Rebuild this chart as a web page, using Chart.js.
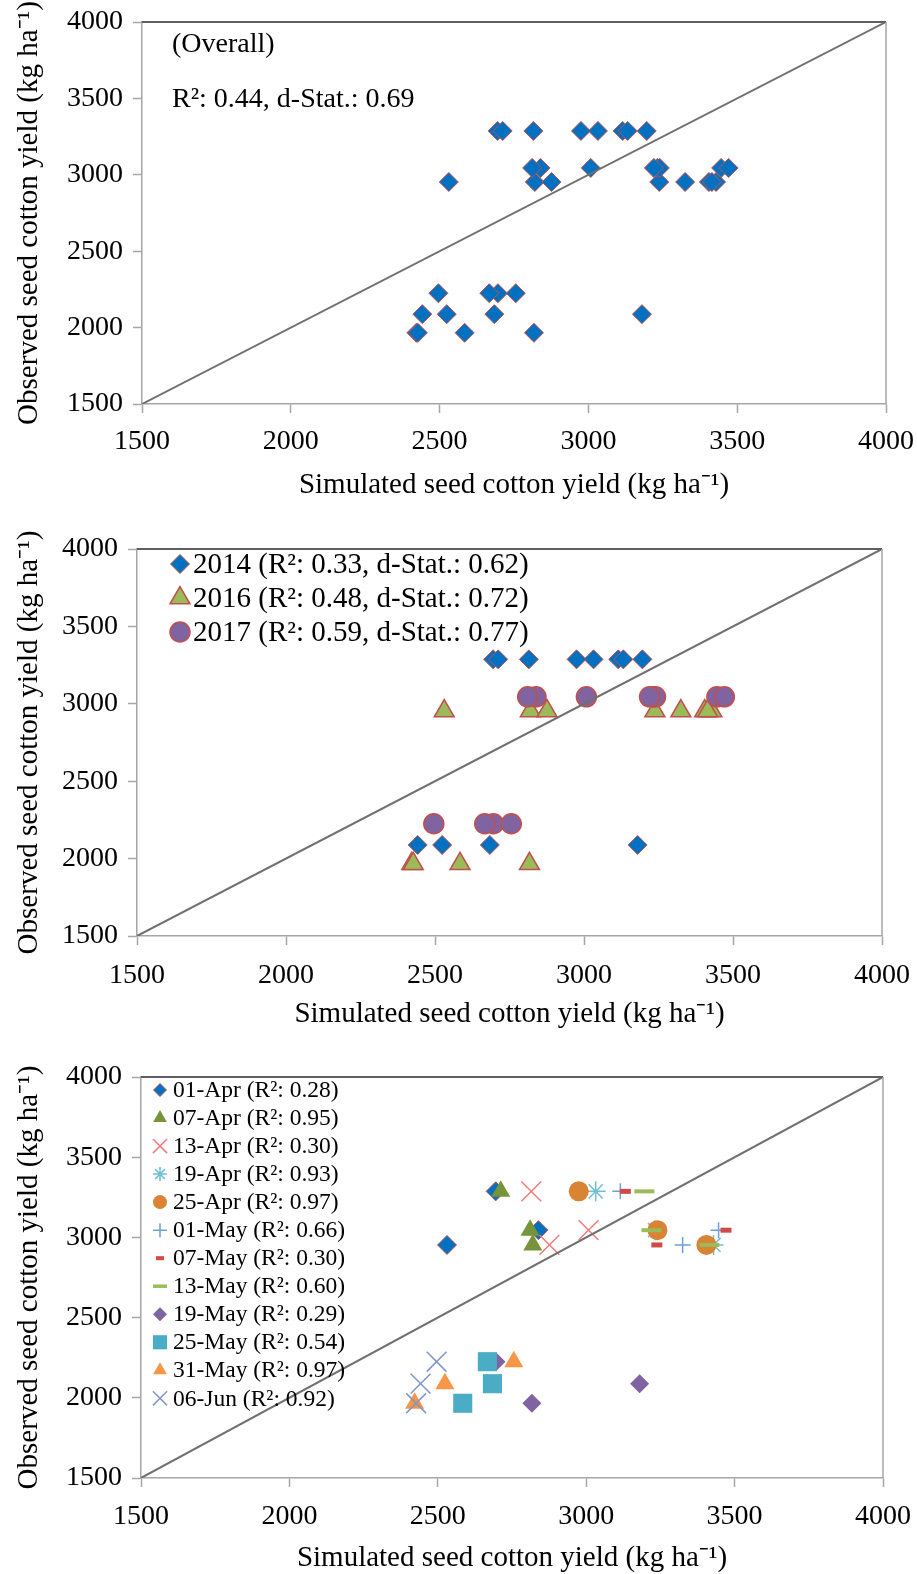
<!DOCTYPE html>
<html>
<head>
<meta charset="utf-8">
<script src="https://cdn.jsdelivr.net/npm/chart.js@4.4.1/dist/chart.umd.min.js"></script>
<style>
  html, body { margin: 0; padding: 0; background: #fff; }
  #wrap { position: relative; width: 917px; height: 1574px; }
  #wrap canvas { position: absolute; left: 0; }
</style>
</head>
<body>
<div id="wrap">
  <canvas id="c1" width="917" height="510" style="top:0px"></canvas>
  <canvas id="c2" width="917" height="530" style="top:510px"></canvas>
  <canvas id="c3" width="917" height="534" style="top:1040px"></canvas>
</div>
<script>
// ── dados ─────────────────────────────────────────────────────────
const axisTicks = [1500, 2000, 2500, 3000, 3500, 4000];
const oneToOne = [1500, 4000];

const sowingDates = ['01-Apr', '07-Apr', '13-Apr', '19-Apr', '25-Apr', '01-May',
                     '07-May', '13-May', '19-May', '25-May', '31-May', '06-Jun'];
const sowingR2 = ['0.28', '0.95', '0.30', '0.93', '0.97', '0.66',
                  '0.30', '0.60', '0.29', '0.54', '0.97', '0.92'];

const sim2014 = [2695, 2712, 2815, 3032, 2975, 3115, 3132, 3196, 3180, 2684, 2524, 2442];
const obs2014 = [3287, 3287, 3287, 3287, 3287, 3287, 3287, 3287, 2088, 2088, 2088, 2088];
const sim2016 = [2531, 2820, 2876, 3429, 3405, 3325, 3238, 3415, 2817, 2584, 2422, 2427];
const obs2016 = [2953, 2953, 2953, 2953, 2953, 2953, 2953, 2953, 1966, 1966, 1966, 1966];
const sim2017 = [2839, 2811, 3008, 3232, 3240, 3446, 3471, 3220, 2696, 2667, 2756, 2496];
const obs2017 = [3045, 3045, 3045, 3045, 3045, 3045, 3045, 3045, 2225, 2225, 2225, 2225];

const years  = ['2014', '2016', '2017'];
const yearR2 = ['0.33', '0.48', '0.59'];
const yearD  = ['0.62', '0.72', '0.77'];
const overallR2 = '0.44';
const overallD  = '0.69';

const xTitle = 'Simulated seed cotton yield (kg ha\u207B\u00B9)';
const yTitle = 'Observed seed cotton yield (kg ha\u207B\u00B9)';

// ── estilos ───────────────────────────────────────────────────────
const FONT = "'Liberation Serif', 'Times New Roman', serif";
const AXIS = '#a6a6a6';
const RED_EDGE = '#c0504d';

const yearStyle = [
  { pointStyle: 'rectRot',  bg: '#0070c0', border: RED_EDGE, bw: 1,   r: 9.5 },
  { pointStyle: 'triangle', bg: '#9bbb59', border: RED_EDGE, bw: 1.5, r: 11.5 },
  { pointStyle: 'circle',   bg: '#8064a2', border: RED_EDGE, bw: 1.5, r: 10 },
];

const sowingStyle = [
  { pointStyle: 'rectRot',  bg: '#0070c0', border: RED_EDGE,  bw: 1,   r: 9.5, lr: 6.5 },
  { pointStyle: 'triangle', bg: '#77933c', border: '#77933c', bw: 0,   r: 11,  lr: 8 },
  { pointStyle: 'crossRot', bg: '#f07c7c', border: '#f07c7c', bw: 1.5, r: 14,  lr: 10 },
  { pointStyle: 'star',     bg: '#6fc0d4', border: '#6fc0d4', bw: 1.5, r: 10,  lr: 7 },
  { pointStyle: 'circle',   bg: '#d98434', border: '#d98434', bw: 0,   r: 10,  lr: 7 },
  { pointStyle: 'cross',    bg: '#6f9fdb', border: '#6f9fdb', bw: 1.5, r: 8,   lr: 7 },
  { pointStyle: 'line',     bg: '#d04a4a', border: '#d04a4a', bw: 5,   r: 5.5, lr: 4, lbw: 4 },
  { pointStyle: 'line',     bg: '#9bbb59', border: '#9bbb59', bw: 4,   r: 10,  lr: 7, lbw: 3.5 },
  { pointStyle: 'rectRot',  bg: '#8064a2', border: '#8064a2', bw: 0,   r: 9.5, lr: 7 },
  { pointStyle: 'rect',     bg: '#4bacc6', border: '#4bacc6', bw: 0,   r: 13.5, lr: 10 },
  { pointStyle: 'triangle', bg: '#f79646', border: '#f79646', bw: 0,   r: 11,  lr: 8 },
  { pointStyle: 'crossRot', bg: '#8096c8', border: '#8096c8', bw: 1.5, r: 14,  lr: 10 },
];

const pts = (xs, ys) => xs.map((x, i) => ({ x, y: ys[i] }));

function serie(data, st, idx) {
  return {
    data,
    pointStyle: st.pointStyle,
    pointRadius: st.r,
    pointHoverRadius: st.r,
    pointBackgroundColor: st.bg,
    pointBorderColor: st.border,
    pointBorderWidth: st.bw,
    showLine: false,
    order: -idx,
  };
}

function linha11() {
  return {
    data: oneToOne.map(v => ({ x: v, y: v })),
    showLine: true,
    borderColor: '#707070',
    borderWidth: 2,
    pointRadius: 0,
    order: -100,
  };
}

// moldura superior / direita
const moldura = {
  id: 'moldura',
  afterDraw(chart) {
    const { ctx, chartArea: a } = chart;
    ctx.save();
    ctx.lineWidth = 2;
    ctx.strokeStyle = '#5f5f5f';
    ctx.beginPath(); ctx.moveTo(a.left, a.top); ctx.lineTo(a.right, a.top); ctx.stroke();
    ctx.lineWidth = 1.5;
    ctx.strokeStyle = AXIS;
    ctx.beginPath(); ctx.moveTo(a.right, a.top); ctx.lineTo(a.right, a.bottom); ctx.stroke();
    ctx.restore();
  }
};

function legenda(itens, x, y0, passo, tam) {
  return {
    id: 'legenda',
    afterDraw(chart) {
      const ctx = chart.ctx;
      ctx.save();
      itens.forEach((it, i) => {
        const y = y0 + i * passo;
        const st = it.st;
        ctx.fillStyle = st.bg;
        ctx.strokeStyle = st.border;
        ctx.lineWidth = st.lbw || st.bw;
        Chart.helpers.drawPoint(ctx, {
          pointStyle: st.pointStyle, rotation: 0,
          radius: st.lr || st.r, borderWidth: st.lbw || st.bw
        }, x, y);
        ctx.fillStyle = '#000';
        ctx.font = `${tam}px ${FONT}`;
        ctx.textBaseline = 'middle';
        ctx.textAlign = 'left';
        ctx.fillText(it.texto, x + 13, y + 1);
      });
      ctx.restore();
    }
  };
}

function criar(id, datasets, g, extras) {
  return new Chart(document.getElementById(id), {
    type: 'scatter',
    data: { datasets },
    plugins: [moldura, ...extras],
    options: {
      responsive: false,
      animation: false,
      events: [],
      layout: { padding: { left: 0, top: g.top, right: g.right, bottom: 0 } },
      plugins: { legend: { display: false }, tooltip: { enabled: false } },
      scales: {
        x: {
          type: 'linear', position: 'bottom',
          min: axisTicks[0], max: axisTicks[axisTicks.length - 1],
          afterBuildTicks: s => { s.ticks = axisTicks.map(v => ({ value: v })); },
          afterFit: s => { s.height = g.xH; s.paddingLeft = 0; s.paddingRight = 0; },
          grid: { drawOnChartArea: false, drawTicks: true, tickLength: 9, tickColor: AXIS, tickWidth: 1.5 },
          border: { color: AXIS, width: 1.5 },
          ticks: { color: '#000', font: { family: FONT, size: 28 }, padding: g.xTickPad,
                   maxRotation: 0, autoSkip: false, callback: v => String(v) },
          title: { display: true, text: xTitle, color: '#000',
                   font: { family: FONT, size: 29, lineHeight: 1 }, padding: { top: 0, bottom: g.xTitlePad } },
        },
        y: {
          type: 'linear', position: 'left',
          min: axisTicks[0], max: axisTicks[axisTicks.length - 1],
          afterBuildTicks: s => { s.ticks = axisTicks.map(v => ({ value: v })); },
          afterFit: s => { s.width = g.yW; s.paddingTop = 0; s.paddingBottom = 0; },
          grid: { drawOnChartArea: false, drawTicks: true, tickLength: 9, tickColor: AXIS, tickWidth: 1.5 },
          border: { color: AXIS, width: 1.5 },
          ticks: { color: '#000', font: { family: FONT, size: 28 }, padding: 10,
                   autoSkip: false, callback: v => String(v) },
          title: { display: true, text: yTitle, color: '#000',
                   font: { family: FONT, size: 29, lineHeight: 1 }, padding: { top: 15, bottom: 0 } },
        },
      },
    },
  });
}

// ── Painel 1: geral ───────────────────────────────────────────────
const todos = [...pts(sim2014, obs2014), ...pts(sim2016, obs2016), ...pts(sim2017, obs2017)];
const anotacao = {
  id: 'anotacao',
  afterDraw(chart) {
    const { ctx, chartArea: a } = chart;
    ctx.save();
    ctx.fillStyle = '#000';
    ctx.font = `28px ${FONT}`;
    ctx.textBaseline = 'middle';
    ctx.fillText('(Overall)', a.left + 30, a.top + 23);
    ctx.fillText(`R\u00B2: ${overallR2}, d-Stat.: ${overallD}`, a.left + 30, a.top + 78);
    ctx.restore();
  }
};
criar('c1', [linha11(), serie(todos, yearStyle[0], 0)],
  { top: 22, right: 31, xH: 106, yW: 142, xTickPad: 12, xTitlePad: 10.5 }, [anotacao]);

// ── Painel 2: por ano ─────────────────────────────────────────────
const porAno = [pts(sim2014, obs2014), pts(sim2016, obs2016), pts(sim2017, obs2017)];
criar('c2', [linha11(), ...porAno.map((d, i) => serie(d, yearStyle[i], i))],
  { top: 39, right: 35, xH: 104, yW: 137, xTickPad: 14, xTitlePad: 11.5 },
  [legenda(years.map((a, i) => ({ st: yearStyle[i], texto: `${a} (R\u00B2: ${yearR2[i]}, d-Stat.: ${yearD[i]})` })),
           180, 54, 34, 29)]);

// ── Painel 3: por data de semeadura ───────────────────────────────
const porData = sowingDates.map((_, i) => [
  { x: sim2014[i], y: obs2014[i] },
  { x: sim2016[i], y: obs2016[i] },
  { x: sim2017[i], y: obs2017[i] },
]);
criar('c3', [linha11(), ...porData.map((d, i) => serie(d, sowingStyle[i], i))],
  { top: 37, right: 34, xH: 96, yW: 141, xTickPad: 13, xTitlePad: 1.5 },
  [legenda(sowingDates.map((s, i) => ({ st: sowingStyle[i], texto: `${s} (R\u00B2: ${sowingR2[i]})` })),
           160, 50, 28.03, 23.5)]);
</script>
</body>
</html>
